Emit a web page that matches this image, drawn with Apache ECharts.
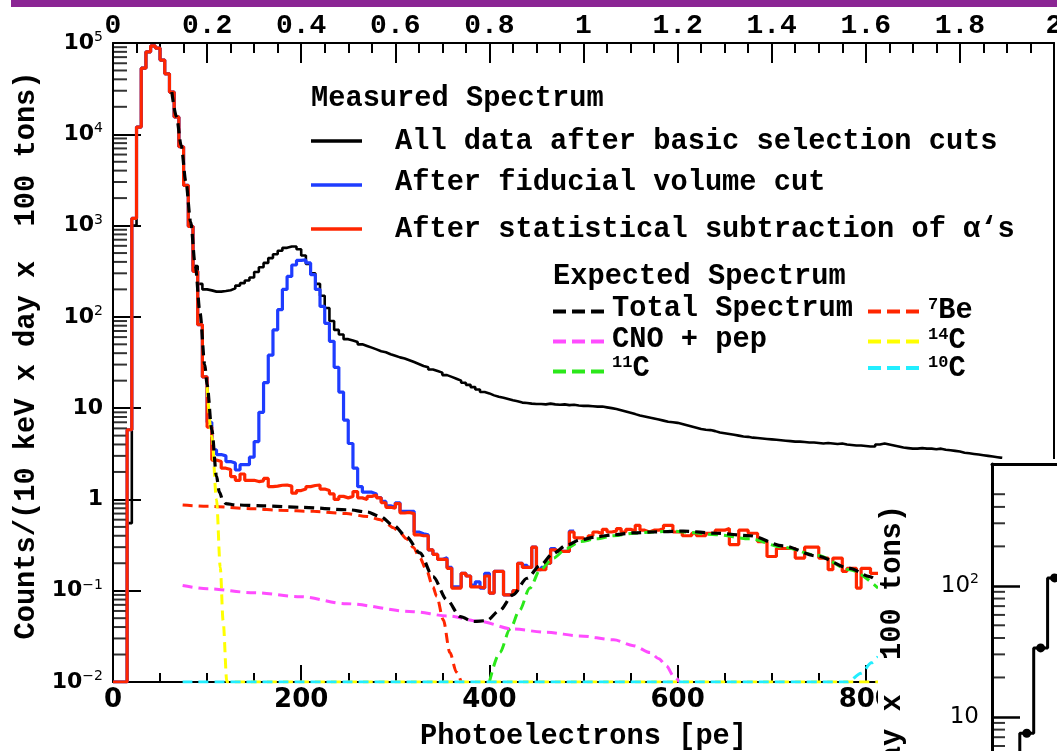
<!DOCTYPE html>
<html><head><meta charset="utf-8">
<script src="https://cdn.jsdelivr.net/npm/echarts@6/dist/echarts.min.js"></script>
<style>html,body{margin:0;padding:0;background:#fff}#c{width:1057px;height:751px}</style>
</head><body><div id="c"></div>
<script>
// ---------- data ----------
const BIN_WIDTH_PE = 5;      // 10 keV bins
const HIST_START_PE = 0;

// Measured spectrum: all data after basic selection cuts (counts per bin, bins start at 0 pe)
const allDataCounts = [
  0.01,0.01,0.01,0.55,1000,12000,53000,80000,93000,88000,
  65000,46000,29000,15500,7300,2760,980,360,230,200,
  195,189,189,192,196,205,220,234,250,270,
  310,350,390,440,485,530,570,590,590,550,
  470,380,300,230,170,125,90,72,64,57,
  55,53,50,48,46,44,42,41,39,37.5,
  36,35,33.5,32,30.5,29,28,26.5,25.5,24.5,
  23,22,21,20,19,18,17,16,15,14.5,
  13.8,13.3,13,12.6,12.2,11.9,11.5,11.4,11.2,11.1,
  11.1,11.0,11.2,11.0,10.9,11.0,10.8,10.9,10.7,10.6,
  10.6,10.5,10.4,10.4,10.2,10.0,9.8,9.5,9.2,8.9,
  8.6,8.3,8.1,7.9,7.7,7.5,7.3,7.1,7.0,6.9,
  6.7,6.5,6.3,6.1,5.9,5.8,5.75,5.6,5.4,5.3,
  5.2,5.1,5.0,4.9,4.85,4.75,4.7,4.65,4.6,4.55,
  4.5,4.45,4.4,4.35,4.3,4.3,4.25,4.2,4.2,4.15,
  4.1,4.15,4.1,4.05,4.1,4.0,3.95,3.9,3.9,3.85,
  3.8,3.8,4.0,4.1,4.0,3.9,3.8,3.7,3.65,3.6,
  3.6,3.65,3.6,3.6,3.55,3.6,3.5,3.45,3.4,3.35,
  3.25,3.2,3.15,3.1,3.05,3.0,2.95,2.9,2.85
];

// After fiducial volume cut
const fiducialCounts = [
  0.01,0.01,0.01,5.8,1200,12000,53000,80000,93000,88000,
  65000,46000,29000,15500,7300,2760,980,315,82,22,
  7.0,3.5,3.1,3.0,2.6,2.5,2.1,2.4,2.4,2.9,
  4.3,9,19,38,72,120,200,277,370,415,
  420,390,290,200,130,85,54,28,15,7.4,
  4.1,2.2,1.38,1.2,1.2,1.15,1.05,0.95,0.85,0.82,
  0.92,0.74,0.74,0.74,0.44,0.42,0.41,0.28,0.25,0.22,
  0.23,0.18,0.11,0.11,0.155,0.145,0.115,0.125,0.107,0.155,
  0.094,0.163,0.163,0.09,0.09,0.1,0.2,0.19,0.18,0.30,
  0.17,0.18,0.2,0.29,0.27,0.27,0.27,0.45
];

// After statistical subtraction of alphas
const alphaSubtractedCounts = [
  0.01,0.01,0.01,5.8,1200,12000,53000,80000,93000,88000,
  65000,46000,29000,15500,7300,2760,980,315,82,22,
  6.2,2.7,2.6,2.2,2.13,1.78,1.62,1.9,1.62,1.62,
  1.57,1.6,1.7,1.38,1.4,1.43,1.44,1.4,1.17,1.25,
  1.3,1.38,1.42,1.44,1.3,1.25,1.15,1.0,1.08,1.04,
  1.08,1.22,1.04,1.0,1.08,1.12,1.04,0.92,0.82,0.8,
  0.9,0.71,0.72,0.7,0.41,0.40,0.40,0.28,0.25,0.22,
  0.22,0.176,0.107,0.107,0.155,0.145,0.11,0.11,0.107,0.145,
  0.094,0.163,0.163,0.09,0.09,0.1,0.2,0.18,0.18,0.30,
  0.17,0.17,0.2,0.28,0.27,0.27,0.27,0.44,0.38,0.38,
  0.36,0.4,0.44,0.42,0.47,0.44,0.45,0.48,0.44,0.47,
  0.45,0.52,0.46,0.44,0.46,0.46,0.48,0.52,0.52,0.44,
  0.44,0.40,0.40,0.426,0.40,0.40,0.426,0.426,0.46,0.46,
  0.48,0.32,0.32,0.46,0.46,0.426,0.426,0.345,0.345,0.237,
  0.237,0.29,0.29,0.29,0.29,0.228,0.228,0.30,0.30,0.30,
  0.228,0.228,0.17,0.228,0.228,0.163,0.176,0.176,0.107,0.176,
  0.176,0.155,0.155
];

// Expected spectrum components: [photoelectrons, counts]
const totalSpectrum = [[62.5,29000],[67.5,15500],[72.5,7500],[77.5,3000],[82.5,1100],[87.5,360],[92.5,110],[97.5,30],[100,18],[105,5.8],[110,1.8],[113,1.2],[117,0.97],[120,0.9],[130,0.87],[160,0.85],[200,0.82],[250,0.77],[270,0.73],[284,0.65],[298,0.52],[312,0.39],[326,0.26],[340,0.143],[355,0.079],[369,0.052],[383,0.046],[397,0.047],[411,0.061],[425,0.09],[440,0.137],[454,0.19],[468,0.257],[482,0.315],[496,0.36],[514,0.39],[532,0.41],[553,0.43],[574,0.44],[606,0.45],[641,0.426],[677,0.40],[712,0.31],[748,0.24],[783,0.176],[804,0.143],[813,0.125]];
const be7Spectrum = [[74,0.87],[100,0.84],[150,0.79],[177,0.76],[213,0.74],[248,0.70],[270,0.65],[284,0.6],[291,0.54],[298,0.49],[305,0.43],[312,0.37],[319,0.30],[326,0.23],[333,0.17],[340,0.11],[344,0.087],[351,0.048],[358,0.021],[365,0.0128],[370,0.01]];
const cnoPepSpectrum = [[74,0.114],[100,0.105],[150,0.095],[199,0.086],[248,0.072],[319,0.059],[355,0.053],[390,0.046],[425,0.038],[461,0.035],[496,0.032],[532,0.029],[553,0.025],[571,0.021],[580,0.018],[588,0.015],[596,0.0115],[602,0.01]];
const c14Spectrum = [[100,17],[105,4.9],[110,1.0],[114,0.18],[117,0.047],[121,0.01],[813,0.01]];
const c11Spectrum = [[400,0.01],[411,0.021],[422,0.038],[432,0.061],[443,0.107],[454,0.17],[468,0.228],[482,0.29],[496,0.345],[514,0.37],[532,0.40],[553,0.426],[574,0.44],[595,0.45],[606,0.44],[641,0.41],[677,0.37],[712,0.30],[748,0.245],[783,0.17],[813,0.107]];
const c10Spectrum = [[74,0.01],[781,0.01],[795,0.0125],[806,0.0162],[813,0.019]];

// Inset (partially visible) histogram
const insetBinCenters = [1.5, 2.5, 3.5, 4.5, 5.5];
const insetCounts = [3, 7.5, 33.6, 115, 300];

// Axis tick helpers
const logMinorMantissas = [2,3,4,5,6,7,8,9];
const mainDecades = [-2,-1,0,1,2,3,4];
const insetDecades = [0,1];
const insetTopDecadeMinor = [200,300,400,500];

const yLabelText = 'Counts/(10 keV x day x  100 tons)';
const xLabelText = 'Photoelectrons [pe]';

// ---------- build ----------
function histPoints(startPe, width, values) {
  const pts = values.map((v, i) => [startPe + i * width, v]);
  pts.push([startPe + values.length * width, values[values.length - 1]]);
  return pts;
}
const mainMinorTicks = mainDecades.flatMap(d => logMinorMantissas.map(m => [0, m * Math.pow(10, d)]));
const insetMinorTicks = insetDecades.flatMap(d => logMinorMantissas.map(m => [0, m * Math.pow(10, d)]))
  .concat(insetTopDecadeMinor.map(v => [0, v]));

const MONO = '"Liberation Mono", "DejaVu Sans Mono", monospace';
const SANS = '"DejaVu Sans", sans-serif';
const RED = '#ff2600', BLUE = '#1e3cff', MAGENTA = '#ff4cff', YELLOW = '#ffff00', GREEN = '#2be81a', CYAN = '#22eeff';

function supLabel(v) {
  const ex = Math.log10(v);
  const e = Math.round(ex);
  if (Math.abs(ex - e) > 1e-6) return '';
  if (e === 0) return '{b|1}';
  if (e === 1) return '{b|10}';
  return '{b|10}{s|' + (e < 0 ? '\u2212' : '') + Math.abs(e) + '}';
}

function minorTickSeries(xi, yi, data, len, z) {
  return { type: 'scatter', xAxisIndex: xi, yAxisIndex: yi, data, symbol: 'rect',
    symbolSize: [len, 2], symbolOffset: [len / 2, 0], itemStyle: { color: '#000' },
    clip: false, z, silent: true };
}

function histSeries(name, values, color, width, z) {
  return { name, type: 'line', xAxisIndex: 0, yAxisIndex: 0, step: 'end', symbol: 'none',
    data: histPoints(HIST_START_PE, BIN_WIDTH_PE, values),
    lineStyle: { color, width }, z, silent: true };
}
function curveSeries(name, data, color, width, z) {
  return { name, type: 'line', xAxisIndex: 0, yAxisIndex: 0, symbol: 'none', data,
    smooth: 0.3, smoothMonotone: 'x',
    lineStyle: { color, width, type: [10, 6] }, z, silent: true };
}

const chart = echarts.init(document.getElementById('c'), null, { renderer: 'canvas' });

const legendText = (x, y, text) => ({ type: 'text', x, y, z: 5,
  style: { text, font: 'bold 28.7px ' + MONO, fill: '#000', align: 'left', textAlign: 'left',
    verticalAlign: 'middle', textVerticalAlign: 'middle' } });
const legendLine = (x1, x2, y, color, dashed) => ({ type: 'line', z: 5,
  shape: { x1, y1: y, x2, y2: y },
  style: { stroke: color, lineWidth: dashed ? 4 : 3.5, lineDash: dashed ? [13, 6] : null } });
const isoRich = {
  n: { fontFamily: MONO, fontWeight: 'bold', fontSize: 28.7, fill: '#000', color: '#000', lineHeight: 30 },
  s: { fontFamily: MONO, fontWeight: 'bold', fontSize: 17, fill: '#000', color: '#000', verticalAlign: 'top', lineHeight: 17 }
};
const isoText = (x, y, mass, el) => ({ type: 'text', x, y, z: 5,
  style: { text: '{s|' + mass + '}{n|' + el + '}', rich: isoRich, align: 'left', textAlign: 'left',
    verticalAlign: 'middle', textVerticalAlign: 'middle' } });

chart.setOption({
  animation: false,
  backgroundColor: '#fff',
  grid: [
    { left: 113, top: 43, right: 3, bottom: 69, containLabel: false, outerBoundsMode: 'none' },
    { left: 992, top: 464, width: 417, height: 384, containLabel: false, outerBoundsMode: 'none' }
  ],
  xAxis: [
    { gridIndex: 0, type: 'value', position: 'bottom', min: 0, max: 1000, interval: 200,
      axisLine: { show: true, onZero: false, lineStyle: { color: '#000', width: 2 } },
      axisTick: { show: true, inside: true, length: 17, lineStyle: { color: '#000', width: 2 } },
      minorTick: { show: true, splitNumber: 4, length: 9, lineStyle: { color: '#000', width: 2 } },
      splitLine: { show: false }, minorSplitLine: { show: false },
      axisLabel: { fontFamily: SANS, fontWeight: 'bold', fontSize: 26, color: '#000', margin: 5 },
      name: xLabelText, nameLocation: 'middle', nameGap: 40,
      nameTextStyle: { fontFamily: MONO, fontWeight: 'bold', fontSize: 28.7, color: '#000' } },
    { gridIndex: 0, type: 'value', position: 'top', min: 0, max: 2, interval: 0.2,
      axisLine: { show: true, onZero: false, lineStyle: { color: '#000', width: 2 } },
      axisTick: { show: true, inside: true, length: 20, lineStyle: { color: '#000', width: 2 } },
      minorTick: { show: true, splitNumber: 4, length: 10, lineStyle: { color: '#000', width: 2 } },
      splitLine: { show: false }, minorSplitLine: { show: false },
      axisLabel: { fontFamily: MONO, fontWeight: 'bold', fontSize: 28, color: '#000', margin: 3 } },
    { gridIndex: 1, type: 'value', position: 'bottom', min: 0, max: 30, z: 110,
      axisLine: { show: true, onZero: false, lineStyle: { color: '#000', width: 3 } },
      axisTick: { show: false }, axisLabel: { show: false }, splitLine: { show: false } },
    { gridIndex: 1, type: 'value', position: 'top', min: 0, max: 30, z: 110,
      axisLine: { show: true, onZero: false, lineStyle: { color: '#000', width: 3 } },
      axisTick: { show: false }, axisLabel: { show: false }, splitLine: { show: false } }
  ],
  yAxis: [
    { gridIndex: 0, type: 'log', logBase: 10, min: 0.01, max: 100000, splitNumber: 7, position: 'left',
      axisLine: { show: true, onZero: false, lineStyle: { color: '#000', width: 2 } },
      axisTick: { show: true, inside: true, length: 28, lineStyle: { color: '#000', width: 2 } },
      splitLine: { show: false }, minorTick: { show: false },
      axisLabel: { margin: 10, formatter: supLabel, rich: {
        b: { fontFamily: SANS, fontWeight: 'bold', fontSize: 22, color: '#000', lineHeight: 25 },
        s: { fontFamily: SANS, fontSize: 14, color: '#000', verticalAlign: 'top', lineHeight: 14 } } },
      name: yLabelText, nameLocation: 'middle', nameGap: 66, nameRotate: 90,
      nameTextStyle: { fontFamily: MONO, fontWeight: 'bold', fontSize: 28.7, color: '#000', padding: [0, 0, 0, 14] } },
    { gridIndex: 0, type: 'value', position: 'right', min: 0, max: 1,
      axisLine: { show: true, onZero: false, lineStyle: { color: '#000', width: 2 } },
      axisTick: { show: false }, axisLabel: { show: false }, splitLine: { show: false } },
    { gridIndex: 1, type: 'log', logBase: 10, min: 1, max: 850, position: 'left', z: 110,
      axisLine: { show: true, onZero: false, lineStyle: { color: '#000', width: 3 } },
      axisTick: { show: true, inside: true, length: 28, lineStyle: { color: '#000', width: 2.5 } },
      splitLine: { show: false },
      axisLabel: { margin: 13, formatter: supLabel, rich: {
        b: { fontFamily: SANS, fontSize: 23, color: '#000', lineHeight: 26 },
        s: { fontFamily: SANS, fontSize: 14, color: '#000', verticalAlign: 'top', lineHeight: 14 } } } }
  ],
  graphic: [
    { type: 'rect', z: 5, shape: { x: 11, y: 0, width: 1046, height: 7 }, style: { fill: '#8b2594' } },
    legendText(311, 98.5, 'Measured Spectrum'),
    legendLine(311, 362, 141, '#000', false),
    legendText(395, 141.5, 'All data after basic selection cuts'),
    legendLine(311, 362, 185, BLUE, false),
    legendText(395, 183, 'After fiducial volume cut'),
    legendLine(311, 362, 229, RED, false),
    legendText(395, 229.5, 'After statistical subtraction of \u03b1\u2018s'),
    legendText(553, 277, 'Expected Spectrum'),
    legendLine(553, 605, 311.5, '#000', true),
    legendText(612, 308.5, 'Total Spectrum'),
    legendLine(868, 920, 311.5, RED, true),
    isoText(928, 311, '7', 'Be'),
    legendLine(553, 605, 341.5, MAGENTA, true),
    legendText(612, 339.5, 'CNO + pep'),
    legendLine(868, 920, 341.5, YELLOW, true),
    isoText(928, 341, '14', 'C'),
    legendLine(553, 605, 371.5, GREEN, true),
    isoText(612, 369, '11', 'C'),
    legendLine(868, 920, 368, CYAN, true),
    isoText(928, 369, '10', 'C'),
    // inset panel (covers the lower-right corner of the main frame)
    { type: 'rect', z: 100, shape: { x: 878, y: 459, width: 200, height: 300 }, style: { fill: '#fff' } },
    { type: 'text', z: 110, x: 893, y: 789, rotation: Math.PI / 2,
      style: { text: yLabelText, font: 'bold 28.7px ' + MONO, fill: '#000',
        align: 'center', textAlign: 'center', verticalAlign: 'middle', textVerticalAlign: 'middle' } }
  ],
  series: [
    minorTickSeries(0, 0, mainMinorTicks, 14, 3),
    histSeries('All data after basic selection cuts', allDataCounts, '#000', 2.6, 2),
    histSeries('After fiducial volume cut', fiducialCounts, BLUE, 3.2, 3),
    histSeries('After statistical subtraction of alphas', alphaSubtractedCounts, RED, 3.2, 4),
    curveSeries('11C', c11Spectrum, GREEN, 3, 5),
    curveSeries('CNO + pep', cnoPepSpectrum, MAGENTA, 3, 5),
    curveSeries('7Be', be7Spectrum, RED, 3, 6),
    curveSeries('14C', c14Spectrum, YELLOW, 3, 6),
    curveSeries('10C', c10Spectrum, CYAN, 3, 7),
    curveSeries('Total Spectrum', totalSpectrum, '#000', 3.2, 8),
    minorTickSeries(2, 2, insetMinorTicks, 13, 110),
    { name: 'inset', type: 'line', xAxisIndex: 2, yAxisIndex: 2, step: 'middle',
      data: insetBinCenters.map((c, i) => [c, insetCounts[i]]),
      symbol: 'circle', symbolSize: 9, itemStyle: { color: '#000' },
      lineStyle: { color: '#000', width: 3 }, z: 110, silent: true }
  ]
});
</script>
</body></html>
